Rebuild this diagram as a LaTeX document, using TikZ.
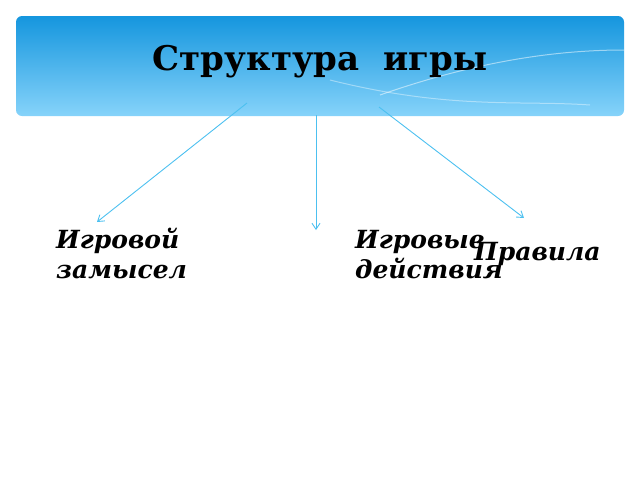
\documentclass[tikz,border=0pt]{standalone}
\usepackage{fontspec}
\setmainfont{DejaVu Serif}
\usetikzlibrary{positioning,arrows.meta}
\definecolor{skyline}{HTML}{4CC0F0}
\definecolor{bandtop}{HTML}{1596DE}
\definecolor{bandlow}{HTML}{86D3FA}
\tikzset{
  link/.style={draw=skyline, line width=0.9pt, -{Straight Barb[length=6pt,width=8pt]}},
  term/.style={font=\fontsize{25}{30}\selectfont\bfseries\itshape, align=left, inner sep=0pt}
}
\begin{document}
\begin{tikzpicture}[x=1pt,y=1pt]
\useasboundingbox (0,0) rectangle (640,-480);

% header band
\shade[top color=bandtop, bottom color=bandlow, rounded corners=6pt] (16,-16) rectangle (624,-116);
\draw[white, opacity=0.5, line width=1pt] (380,-95) .. controls (480,-60) and (560,-50) .. (624,-50);
\draw[white, opacity=0.4, line width=1pt] (330,-80) .. controls (450,-110) and (520,-100) .. (590,-105);
\node[font=\fontsize{34}{40}\selectfont\bfseries] (title) at (320,-62) {Структура \ игры};

% labels
\node[term, anchor=base west] (plan) at (56,-278) {Игровой\\замысел};
\node[term, anchor=base west] (acts) at (355,-278) {Игровые\\действия};
\node[term, anchor=base west] (rules) at (474,-260) {Правила};

% connectors
\coordinate (s1) at (247,-103);
\coordinate (s2) at (316,-115);
\coordinate (s3) at (379,-107);
\coordinate (e1) at (97,-222);
\coordinate (e2) at (316,-230);
\coordinate (e3) at (524,-218);
\draw[link] (s1) -- (e1);
\draw[link] (s2) -- (e2);
\draw[link] (s3) -- (e3);

\end{tikzpicture}
\end{document}
